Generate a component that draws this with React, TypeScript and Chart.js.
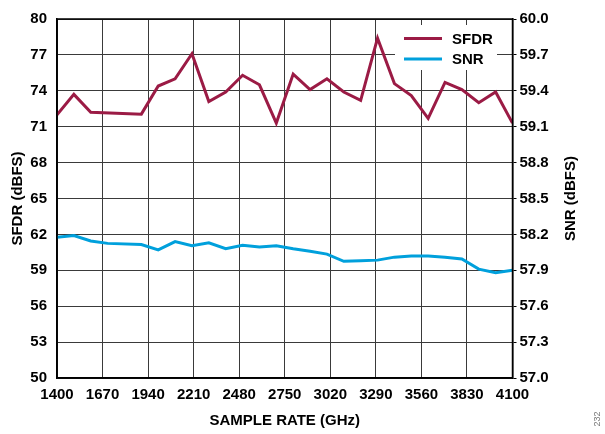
import React, { useEffect, useRef } from "react";
import { Chart, registerables } from "chart.js";

Chart.register(...registerables);

const SFDR_FREQ = [1400, 1500, 1600, 1900, 2000, 2100, 2200, 2300, 2400, 2500, 2600, 2700, 2800, 2900, 3000, 3100, 3200, 3300, 3400, 3500, 3600, 3700, 3800, 3900, 4000, 4100];
const SFDR = [72.0, 73.7, 72.2, 72.05, 74.4, 75.0, 77.1, 73.1, 73.9, 75.3, 74.5, 71.3, 75.4, 74.1, 75.0, 73.9, 73.2, 78.4, 74.6, 73.6, 71.7, 74.7, 74.1, 73.0, 73.9, 71.3];

const SNR_FREQ = [1400, 1500, 1600, 1700, 1900, 2000, 2100, 2200, 2300, 2400, 2500, 2600, 2700, 2800, 2900, 3000, 3100, 3200, 3300, 3400, 3500, 3600, 3700, 3800, 3900, 4000, 4100];
const SNR = [58.176, 58.19, 58.145, 58.125, 58.115, 58.07, 58.14, 58.105, 58.13, 58.08, 58.11, 58.095, 58.105, 58.08, 58.06, 58.035, 57.975, 57.98, 57.985, 58.01, 58.02, 58.02, 58.01, 57.995, 57.91, 57.88, 57.9];

const X_TICKS = [1400, 1670, 1940, 2210, 2480, 2750, 3020, 3290, 3560, 3830, 4100];
const SFDR_TICKS = [50, 53, 56, 59, 62, 65, 68, 71, 74, 77, 80];
const SNR_TICKS = [57.0, 57.3, 57.6, 57.9, 58.2, 58.5, 58.8, 59.1, 59.4, 59.7, 60.0];

const X_TITLE = "SAMPLE RATE (GHz)";
const Y_TITLE = "SFDR (dBFS)";
const Y2_TITLE = "SNR (dBFS)";
const SERIES_NAMES = ["SFDR", "SNR"];
const FIG_ID = "232";

const SFDR_COLOR = "#9b1b45";
const SNR_COLOR = "#00a0dc";
const FONT = "'Liberation Sans', Arial, sans-serif";

const decorPlugin = {
  id: "decor",
  afterDraw(chart: any) {
    const ctx = chart.ctx;
    const a = chart.chartArea;
    ctx.save();
    // frame
    ctx.strokeStyle = "#000";
    ctx.lineWidth = 1.5;
    ctx.strokeRect(a.left, a.top, a.right - a.left, a.bottom - a.top);

    // legend
    ctx.fillStyle = "#fff";
    ctx.fillRect(395, 25, 102, 45);
    const items = [
      { name: SERIES_NAMES[0], color: SFDR_COLOR, y: 38.5 },
      { name: SERIES_NAMES[1], color: SNR_COLOR, y: 59 },
    ];
    ctx.font = `bold 15px ${FONT}`;
    ctx.textBaseline = "middle";
    ctx.textAlign = "left";
    for (const it of items) {
      ctx.strokeStyle = it.color;
      ctx.lineWidth = 3;
      ctx.beginPath();
      ctx.moveTo(404, it.y);
      ctx.lineTo(442, it.y);
      ctx.stroke();
      ctx.fillStyle = "#000";
      ctx.fillText(it.name, 452, it.y + 1);
    }

    // axis titles
    ctx.fillStyle = "#000";
    ctx.font = `bold 15px ${FONT}`;
    ctx.textAlign = "center";
    ctx.textBaseline = "middle";
    const cx = (a.left + a.right) / 2;
    const cy = (a.top + a.bottom) / 2;
    ctx.fillText(X_TITLE, cx, 421);

    ctx.save();
    ctx.translate(18, cy);
    ctx.rotate(-Math.PI / 2);
    ctx.fillText(Y_TITLE, 0, 0);
    ctx.restore();

    ctx.save();
    ctx.translate(571, cy);
    ctx.rotate(-Math.PI / 2);
    ctx.fillText(Y2_TITLE, 0, 0);
    ctx.restore();

    // figure id
    ctx.save();
    ctx.fillStyle = "#777";
    ctx.font = `9px ${FONT}`;
    ctx.translate(598, 419);
    ctx.rotate(-Math.PI / 2);
    ctx.fillText(FIG_ID, 0, 0);
    ctx.restore();

    ctx.restore();
  },
};

export default function App() {
  const ref = useRef<HTMLCanvasElement | null>(null);

  useEffect(() => {
    if (!ref.current) return;
    const chart = new Chart(ref.current, {
      type: "line",
      data: {
        datasets: [
          {
            label: SERIES_NAMES[0],
            data: SFDR_FREQ.map((f, i) => ({ x: f, y: SFDR[i] })),
            borderColor: SFDR_COLOR,
            borderWidth: 3,
            pointRadius: 0,
            tension: 0,
            yAxisID: "y",
          },
          {
            label: SERIES_NAMES[1],
            data: SNR_FREQ.map((f, i) => ({ x: f, y: SNR[i] })),
            borderColor: SNR_COLOR,
            borderWidth: 3,
            pointRadius: 0,
            tension: 0,
            yAxisID: "y2",
          },
        ],
      },
      options: {
        responsive: false,
        animation: false,
        devicePixelRatio: 1,
        layout: { padding: { top: 14, left: 0, right: 0, bottom: 0 } },
        plugins: { legend: { display: false }, tooltip: { enabled: false } },
        scales: {
          x: {
            type: "linear",
            min: 1400,
            max: 4100,
            afterBuildTicks: (s: any) => {
              s.ticks = X_TICKS.map((v) => ({ value: v }));
            },
            afterFit: (s: any) => {
              s.height = 56;
            },
            ticks: {
              autoSkip: false,
              maxRotation: 0,
              padding: 8,
              color: "#000",
              font: { family: FONT, size: 15, weight: "bold" },
              callback: (v: any) => String(v),
            },
            grid: { color: "#3a3a3a", lineWidth: 1, drawTicks: false },
            border: { color: "#000", width: 1.5 },
          },
          y: {
            position: "left",
            min: 50,
            max: 80,
            afterBuildTicks: (s: any) => {
              s.ticks = SFDR_TICKS.map((v) => ({ value: v }));
            },
            afterFit: (s: any) => {
              s.width = 57;
            },
            ticks: {
              autoSkip: false,
              padding: 10,
              color: "#000",
              font: { family: FONT, size: 15, weight: "bold" },
              callback: (v: any) => String(v),
            },
            grid: { color: "#3a3a3a", lineWidth: 1, drawTicks: false },
            border: { color: "#000", width: 1.5 },
          },
          y2: {
            position: "right",
            min: 57,
            max: 60,
            afterBuildTicks: (s: any) => {
              s.ticks = SNR_TICKS.map((v) => ({ value: v }));
            },
            afterFit: (s: any) => {
              s.width = 92.5;
            },
            ticks: {
              autoSkip: false,
              padding: 3,
              color: "#000",
              font: { family: FONT, size: 15, weight: "bold" },
              callback: (v: any) => Number(v).toFixed(1),
            },
            grid: { drawOnChartArea: false, color: "#000", lineWidth: 1, drawTicks: true, tickLength: 4 },
            border: { color: "#000", width: 1.5 },
          },
        },
      },
      plugins: [decorPlugin],
    } as any);
    return () => chart.destroy();
  }, []);

  return (
    <div style={{ position: "fixed", left: 0, top: 0, width: 605, height: 434, background: "#fff" }}>
      <canvas ref={ref} width={605} height={434} />
    </div>
  );
}
